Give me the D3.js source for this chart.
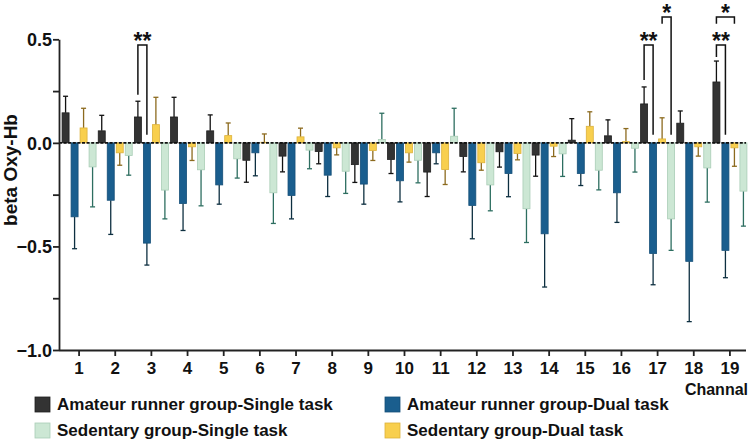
<!DOCTYPE html>
<html>
<head>
    <meta charset="utf-8">
    <script src="https://cdn.jsdelivr.net/npm/d3@7"></script>
    <style>
        body { margin: 0; background: #fff; }
        text { font-family: "Liberation Sans", Arial, sans-serif; font-weight: bold; fill: #111; }
    </style>
</head>
<body>
<div id="chart"></div>
<script>
var W = 754, H = 442;

// ====================== data
var channels = ['1','2','3','4','5','6','7','8','9','10','11','12','13','14','15','16','17','18','19'];

var amSingle    = [0.145, 0.058, 0.125, 0.125, 0.058, -0.084, -0.064, -0.042, -0.105, -0.080, -0.141, -0.066, -0.043, -0.059, 0.013, 0.034, 0.188, 0.095, 0.294];
var amSingleErr = [0.080, 0.075, 0.076, 0.095, 0.077, 0.106, 0.076, 0.059, 0.086, 0.068, 0.118, 0.074, 0.074, 0.102, 0.104, 0.077, 0.082, 0.059, 0.101];
var amDual      = [-0.357, -0.277, -0.484, -0.293, -0.203, -0.048, -0.254, -0.156, -0.199, -0.183, -0.048, -0.302, -0.148, -0.439, -0.148, -0.241, -0.534, -0.572, -0.519];
var amDualErr   = [0.154, 0.165, 0.106, 0.130, 0.093, 0.111, 0.113, 0.103, 0.097, 0.102, 0.053, 0.161, 0.112, 0.257, 0.058, 0.143, 0.151, 0.291, 0.132];
var sedDual     = [0.072, -0.048, 0.088, -0.019, 0.035, 0.003, 0.029, -0.024, -0.037, -0.048, -0.129, -0.096, -0.051, -0.016, 0.080, 0.006, 0.019, -0.019, -0.024];
var sedDualErr  = [0.095, 0.060, 0.132, 0.066, 0.061, 0.040, 0.042, 0.034, 0.048, 0.045, 0.072, 0.036, 0.031, 0.050, 0.070, 0.063, 0.102, 0.045, 0.089];
var sedSingle   = [-0.116, -0.061, -0.228, -0.130, -0.077, -0.241, -0.035, -0.137, 0.016, -0.084, 0.032, -0.203, -0.318, -0.053, -0.132, -0.026, -0.367, -0.121, -0.233];
var sedSingleErr= [0.193, 0.095, 0.139, 0.174, 0.093, 0.148, 0.090, 0.107, 0.127, 0.109, 0.135, 0.125, 0.163, 0.109, 0.095, 0.115, 0.152, 0.165, 0.169];

var yTicks = [-1, -0.75, -0.5, -0.25, 0, 0.25, 0.5];
var yLabels = [-1, -0.5, 0, 0.5];

// bar order inside each channel: black, blue, yellow, green
var series = [
    {name: 'Amateur runner group-Single task', vals: amSingle,  errs: amSingleErr,  fill: '#333333', stroke: '#1e1e1e', err: '#111111'},
    {name: 'Amateur runner group-Dual task',   vals: amDual,    errs: amDualErr,    fill: '#1a5e8e', stroke: '#154f78', err: '#0d2f40'},
    {name: 'Sedentary group-Dual task',        vals: sedDual,   errs: sedDualErr,   fill: '#f8cf4e', stroke: '#dcb13a', err: '#8c6a1e'},
    {name: 'Sedentary group-Single task',      vals: sedSingle, errs: sedSingleErr, fill: '#cce7d4', stroke: '#a9cdb6', err: '#2d6e60'}
];
var legendOrder = [0, 1, 3, 2];

// significance brackets (channel, bars a/b, levels in data units)
var sigs = [
    {ch: '3',  a: 0, b: 1, top: 0.473, endA: 0.232, endB: 0.039, label: '**'},
    {ch: '17', a: 0, b: 1, top: 0.473, endA: 0.304, endB: 0.039, label: '**'},
    {ch: '17', a: 2, b: 3, top: 0.608, endA: 0.575, endB: 0.039, label: '*'},
    {ch: '19', a: 0, b: 1, top: 0.473, endA: 0.415, endB: 0.039, label: '**'},
    {ch: '19', a: 0, b: 2, top: 0.608, endA: 0.575, endB: 0.575, label: '*'}
];

// ====================== scales
var svg = d3.select('#chart').append('svg')
        .attr('width', W)
        .attr('height', H);

var x = d3.scaleBand().domain(channels).range([61, 748]);
var y = d3.scaleLinear().domain([-1, 0.5]).range([350, 39.3]);
var step = 9, barW = 7;
function barX(ch, k) {
    return x(ch) + x.bandwidth() / 2 + (k - 1.5) * step;
}

// ====================== bars
var gBars = svg.append('g');
series.forEach(function (s, k) {
    var g = gBars.append('g');
    g.selectAll('line.err')
            .data(channels)
            .enter().append('line')
            .attr('x1', function (d) { return barX(d, k); })
            .attr('x2', function (d) { return barX(d, k); })
            .attr('y1', function (d, i) { return y(s.vals[i]); })
            .attr('y2', function (d, i) { return y(s.vals[i] + Math.sign(s.vals[i]) * s.errs[i]); })
            .attr('stroke', s.err)
            .attr('stroke-width', 1.3);
    g.selectAll('line.cap')
            .data(channels)
            .enter().append('line')
            .attr('x1', function (d) { return barX(d, k) - 2.5; })
            .attr('x2', function (d) { return barX(d, k) + 2.5; })
            .attr('y1', function (d, i) { return y(s.vals[i] + Math.sign(s.vals[i]) * s.errs[i]); })
            .attr('y2', function (d, i) { return y(s.vals[i] + Math.sign(s.vals[i]) * s.errs[i]); })
            .attr('stroke', s.err)
            .attr('stroke-width', 1.3);
    g.selectAll('rect')
            .data(channels)
            .enter().append('rect')
            .attr('x', function (d) { return barX(d, k) - barW / 2; })
            .attr('width', barW)
            .attr('y', function (d, i) { return y(Math.max(0, s.vals[i])); })
            .attr('height', function (d, i) { return Math.abs(y(s.vals[i]) - y(0)); })
            .attr('fill', s.fill)
            .attr('stroke', s.stroke)
            .attr('stroke-width', 0.8);
});

// zero line, dotted
svg.append('line')
        .attr('x1', 59).attr('x2', 746)
        .attr('y1', y(0)).attr('y2', y(0))
        .attr('stroke', '#111')
        .attr('stroke-width', 1.6)
        .attr('stroke-dasharray', '3,1.6');

// ====================== axes
var yAxis = svg.append('g')
        .attr('transform', 'translate(59,0)')
        .call(d3.axisLeft(y).tickValues(yTicks).tickSize(6).tickSizeOuter(0)
                .tickFormat(function (d) { return yLabels.indexOf(d) >= 0 ? d3.format('.1f')(d) : ''; }));
yAxis.selectAll('text').attr('font-size', 18).attr('x', -7).attr('dy', '0.36em');

var xAxis = svg.append('g')
        .attr('transform', 'translate(0,350)')
        .call(d3.axisBottom(x).tickSize(6).tickSizeOuter(0));
xAxis.select('.domain').attr('d', 'M59,0.5H746');
xAxis.selectAll('text').attr('font-size', 17).attr('y', 12);

svg.selectAll('.domain, .tick line').attr('stroke', '#222').attr('stroke-width', 1.8);
svg.selectAll('.tick text').attr('fill', '#111').attr('font-family', '"Liberation Sans", Arial, sans-serif');

svg.append('text')
        .attr('x', 748).attr('y', 395)
        .attr('text-anchor', 'end')
        .attr('font-size', 16)
        .text('Channal');

svg.append('text')
        .attr('transform', 'translate(17,170) rotate(-90)')
        .attr('text-anchor', 'middle')
        .attr('font-size', 19)
        .text('beta Oxy-Hb');

// ====================== significance
var gSig = svg.append('g');
sigs.forEach(function (s) {
    var xa = barX(s.ch, s.a), xb = barX(s.ch, s.b);
    gSig.append('path')
            .attr('d', 'M' + xa + ',' + y(s.endA) + 'V' + y(s.top) + 'H' + xb + 'V' + y(s.endB))
            .attr('fill', 'none')
            .attr('stroke', '#111')
            .attr('stroke-width', 1.5);
    gSig.append('text')
            .attr('x', (xa + xb) / 2)
            .attr('y', y(s.top) + 4)
            .attr('text-anchor', 'middle')
            .attr('font-size', 23)
            .text(s.label);
});

// ====================== legend
var gLeg = svg.append('g');
legendOrder.forEach(function (k, i) {
    var s = series[k];
    var lx = i % 2 === 0 ? 35 : 385;
    var ly = i < 2 ? 397 : 423;
    gLeg.append('rect')
            .attr('x', lx).attr('y', ly)
            .attr('width', 15).attr('height', 15)
            .attr('fill', s.fill)
            .attr('stroke', s.stroke)
            .attr('stroke-width', 0.8);
    gLeg.append('text')
            .attr('x', lx + 22).attr('y', ly + 13)
            .attr('font-size', 17)
            .text(s.name);
});
</script>
</body>
</html>
